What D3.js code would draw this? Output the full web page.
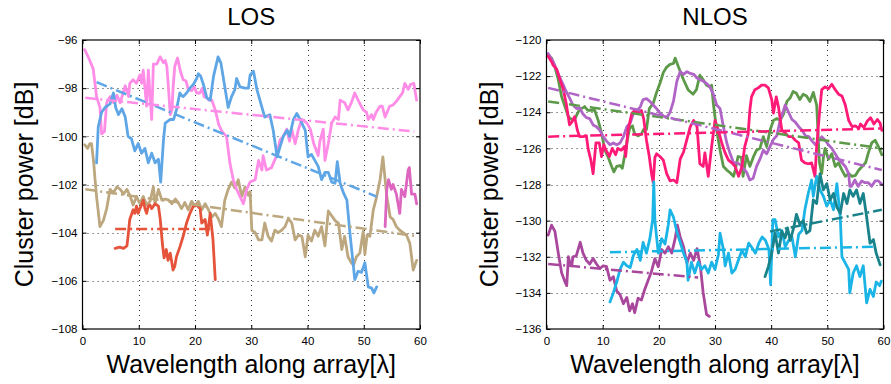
<!DOCTYPE html>
<html><head><meta charset="utf-8">
<script src="https://cdn.jsdelivr.net/npm/d3@7"></script>
<style>body{margin:0;background:#fff}svg{display:block}</style>
</head><body>
<svg id="c" width="891" height="384"></svg>
<script>
// ---------- data ----------
const xTicks = [0,10,20,30,40,50,60];
const losYTicks = [-108,-106,-104,-102,-100,-98,-96];
const nlosYTicks = [-136,-134,-132,-130,-128,-126,-124,-122,-120];

const losPink = [[0.4,-96.4],[1.2,-96.8],[1.9,-97.2],[2.5,-98.35],[3.1,-98.8],[3.4,-99.9],[3.9,-99.8],[4.3,-98.6],[4.9,-98.35],[5.5,-98.6],[6.1,-98.3],[6.7,-98.6],[7.6,-97.9],[8.2,-98.35],[8.4,-97.8],[9.0,-97.65],[9.6,-97.8],[10.2,-97.45],[10.5,-97.8],[10.8,-97.25],[11.4,-98.75],[11.7,-97.25],[12.3,-99.3],[12.6,-97.0],[13.2,-97.0],[13.8,-96.7],[14.4,-96.95],[14.7,-96.85],[15.0,-97.1],[15.3,-98.05],[15.6,-99.1],[15.9,-98.9],[16.1,-98.0],[16.4,-97.1],[16.9,-96.75],[17.4,-97.3],[17.9,-97.65],[18.4,-97.7],[18.8,-98.05],[19.4,-98.1],[19.9,-97.95],[20.3,-98.2],[20.9,-98.2],[21.3,-98.0],[21.6,-98.35],[22.1,-98.4],[22.5,-98.5],[23.0,-98.5],[23.6,-98.9],[24.2,-99.5],[24.8,-99.8],[25.6,-100.0],[26.2,-101.1],[26.8,-101.8],[27.4,-102.2],[28.0,-102.5],[28.6,-102.8],[29.2,-102.2],[29.8,-101.9],[30.7,-101.8],[31.3,-101.0],[31.9,-101.4],[32.1,-100.8],[32.7,-101.4],[33.6,-101.3],[34.5,-100.8],[35.1,-100.15],[35.7,-100.0],[36.3,-99.7],[36.8,-100.2],[37.2,-99.7],[37.8,-100.3],[38.4,-99.7],[39.0,-99.3],[39.9,-99.45],[40.5,-99.7],[41.1,-100.3],[41.9,-100.8],[42.2,-100.2],[42.8,-99.7],[43.1,-101.0],[43.7,-100.3],[44.3,-99.45],[44.9,-99.2],[45.5,-99.3],[45.8,-98.5],[46.6,-98.6],[47.2,-98.9],[47.8,-98.6],[48.4,-98.2],[49.0,-98.5],[49.9,-98.9],[50.5,-99.0],[50.8,-99.3],[51.4,-99.1],[51.7,-99.3],[52.2,-99.0],[52.9,-98.75],[53.3,-98.75],[53.8,-99.2],[54.6,-98.75],[55.2,-98.7],[55.8,-98.55],[56.4,-98.35],[56.9,-98.2],[57.3,-97.8],[57.9,-98.05],[58.3,-97.85],[58.9,-97.8],[59.4,-98.5]];
const losBlue = [[2.5,-101.1],[2.8,-99.6],[3.4,-99.0],[4.0,-98.8],[4.9,-98.65],[5.5,-98.2],[5.9,-98.8],[6.4,-99.1],[7.0,-98.85],[7.6,-99.2],[8.1,-100.0],[8.7,-100.1],[9.3,-100.6],[9.9,-100.3],[10.5,-100.7],[11.1,-100.5],[11.7,-101.1],[12.3,-100.7],[12.9,-101.1],[13.5,-100.95],[13.9,-101.9],[14.4,-100.15],[14.7,-99.45],[15.6,-99.3],[16.2,-99.3],[16.7,-98.9],[17.3,-98.2],[17.6,-98.3],[17.9,-98.35],[18.5,-98.2],[19.1,-98.0],[19.7,-97.85],[20.3,-97.6],[20.6,-97.4],[21.0,-97.5],[21.5,-97.85],[22.1,-98.4],[22.7,-98.5],[23.3,-97.5],[24.1,-96.7],[24.6,-96.95],[25.3,-97.95],[25.9,-98.8],[26.5,-98.35],[27.1,-98.05],[27.4,-97.6],[28.0,-97.95],[28.9,-98.0],[29.5,-98.0],[29.8,-97.45],[30.4,-97.3],[31.0,-98.05],[31.9,-98.8],[32.4,-99.2],[33.3,-99.1],[33.9,-99.75],[34.6,-100.85],[35.1,-100.45],[35.7,-100.0],[36.4,-99.75],[36.8,-100.0],[37.5,-99.3],[38.1,-99.05],[38.7,-99.3],[39.6,-99.75],[40.1,-100.85],[40.7,-100.75],[41.3,-101.0],[41.9,-101.25],[42.5,-101.8],[43.1,-101.5],[43.7,-101.5],[44.3,-101.9],[44.9,-101.95],[45.3,-101.05],[45.8,-101.95],[46.4,-102.35],[47.0,-102.65],[47.6,-104.15],[48.1,-105.25],[48.4,-105.95],[49.0,-105.6],[49.6,-105.65],[50.2,-105.25],[50.8,-106.25],[51.4,-106.3],[51.8,-106.5],[52.3,-106.25]];
const losTan = [[0.4,-100.35],[0.9,-100.5],[1.3,-100.3],[1.6,-100.3],[2.0,-101.1],[2.2,-101.7],[2.5,-102.5],[3.1,-103.75],[3.7,-103.5],[4.3,-103.0],[4.9,-102.2],[5.5,-102.35],[6.1,-102.1],[6.7,-102.2],[7.3,-102.4],[7.9,-102.2],[8.5,-102.5],[9.0,-102.85],[9.6,-102.5],[10.2,-102.8],[10.8,-102.5],[11.4,-102.85],[12.0,-102.7],[12.6,-102.1],[12.9,-102.8],[13.5,-102.2],[14.1,-102.65],[14.7,-102.6],[15.3,-102.65],[15.9,-102.8],[16.5,-102.6],[17.0,-102.75],[17.6,-103.0],[18.2,-102.75],[18.8,-103.05],[19.4,-102.7],[20.0,-102.9],[20.6,-102.7],[21.2,-103.05],[21.8,-102.8],[22.4,-103.05],[23.0,-103.35],[23.6,-103.2],[24.2,-103.45],[24.7,-103.75],[25.3,-102.65],[25.9,-102.2],[26.5,-101.9],[27.1,-102.15],[27.7,-101.8],[28.3,-102.5],[28.9,-102.1],[29.5,-102.45],[29.8,-102.3],[30.1,-103.9],[30.7,-104.0],[31.3,-104.3],[31.9,-104.3],[32.4,-103.6],[33.0,-104.15],[33.6,-104.35],[34.2,-103.9],[34.8,-104.0],[35.4,-103.9],[36.0,-103.75],[36.6,-103.4],[37.2,-103.6],[37.8,-104.3],[38.4,-104.1],[39.0,-104.15],[39.6,-105.0],[40.1,-104.1],[40.7,-104.35],[41.3,-103.9],[41.9,-104.15],[42.5,-103.75],[43.1,-104.55],[43.7,-103.1],[44.3,-103.3],[44.9,-103.5],[45.5,-103.6],[46.1,-104.7],[46.6,-104.15],[47.2,-105.0],[47.8,-105.25],[48.2,-105.35],[48.7,-105.0],[49.3,-104.85],[49.9,-103.95],[50.2,-104.9],[50.6,-104.1],[51.1,-104.15],[51.7,-103.05],[52.3,-102.5],[52.9,-101.8],[53.4,-100.85],[53.8,-101.8],[54.1,-102.5],[54.7,-103.35],[55.2,-103.45],[55.8,-103.75],[56.4,-103.9],[57.0,-104.0],[57.6,-104.1],[58.2,-104.45],[58.8,-105.55],[59.4,-105.15]];
const losRed = [[5.8,-104.65],[6.6,-104.6],[7.3,-104.65],[7.9,-104.55],[8.1,-104.15],[8.4,-103.45],[9.0,-103.05],[9.3,-103.2],[9.6,-102.9],[9.9,-103.2],[10.2,-103.0],[10.5,-102.85],[10.8,-102.65],[11.1,-103.0],[11.4,-103.2],[11.7,-102.9],[12.0,-102.85],[12.3,-103.0],[12.9,-102.8],[13.5,-102.9],[13.8,-103.4],[14.2,-104.45],[14.5,-105.05],[14.9,-104.7],[15.2,-105.15],[15.6,-104.85],[16.1,-105.55],[16.4,-105.4],[16.7,-105.0],[17.3,-104.6],[17.9,-104.15],[18.5,-103.6],[19.1,-103.2],[19.7,-102.9],[20.3,-102.85],[20.9,-103.0],[21.2,-103.6],[21.8,-103.45],[22.2,-104.1],[22.7,-103.2],[23.2,-104.3],[23.6,-105.95]];
const losMagenta = [[53.8,-103.75],[54.1,-102.2],[54.4,-101.8],[54.9,-102.2],[55.2,-102.0],[55.8,-102.4],[56.4,-103.2],[56.7,-102.2],[57.3,-102.5],[57.9,-101.4],[58.1,-101.3],[58.5,-102.4],[59.1,-102.4],[59.4,-102.8]];
const losBlueFit = [[2.5,-97.75],[52.3,-102.5]];
const losPinkFit = [[0.5,-98.4],[59.0,-99.8]];
const losTanFit = [[0.5,-102.2],[59.5,-104.15]];
const losRedFit = [[5.8,-103.85],[23.3,-103.85]];

const nlosGreen = [[0.3,-120.85],[0.9,-121.0],[1.5,-121.5],[2.1,-122.2],[2.7,-123.15],[3.3,-123.7],[3.9,-124.25],[4.5,-124.4],[5.0,-124.4],[5.7,-123.95],[6.2,-123.8],[6.8,-123.7],[7.4,-123.9],[8.0,-123.9],[8.6,-123.9],[9.2,-124.45],[9.8,-125.15],[10.4,-126.1],[11.0,-126.5],[11.6,-127.0],[12.0,-127.3],[12.5,-127.0],[13.1,-126.95],[13.5,-127.1],[14.0,-126.25],[14.4,-125.5],[14.8,-124.9],[15.3,-124.75],[15.7,-125.2],[16.3,-125.3],[16.9,-125.2],[17.3,-124.95],[17.8,-124.95],[18.3,-123.8],[19.0,-123.5],[19.6,-122.9],[20.2,-122.4],[20.8,-121.8],[21.4,-121.5],[22.0,-121.35],[22.6,-121.3],[22.9,-121.0],[23.5,-121.5],[24.4,-122.2],[25.2,-122.75],[26.1,-123.0],[26.7,-122.75],[27.3,-121.95],[27.9,-122.2],[28.5,-122.5],[29.1,-122.6],[29.4,-122.5],[29.7,-123.5],[30.3,-125.0],[30.9,-126.1],[31.5,-127.0],[32.1,-127.2],[32.7,-127.35],[33.3,-127.55],[33.6,-127.2],[34.1,-126.45],[34.7,-126.5],[35.0,-127.55],[35.6,-126.4],[36.2,-127.0],[36.8,-126.5],[37.4,-126.1],[38.0,-126.0],[38.6,-125.35],[39.2,-125.9],[39.8,-125.0],[40.4,-124.45],[41.0,-124.35],[41.6,-124.45],[42.2,-124.1],[42.8,-123.4],[43.4,-123.2],[43.9,-122.85],[44.5,-122.95],[45.1,-123.3],[45.7,-123.0],[46.3,-123.1],[46.9,-123.4],[47.5,-122.9],[48.1,-123.6],[48.6,-126.8],[49.0,-127.4],[49.3,-126.5],[49.6,-126.0],[50.2,-126.6],[50.8,-126.3],[51.4,-127.0],[52.0,-126.8],[52.6,-127.2],[53.2,-127.55],[53.8,-127.4],[54.4,-127.55],[55.0,-127.5],[55.6,-127.2],[56.2,-127.0],[56.8,-126.8],[57.3,-126.25],[57.9,-125.7],[58.5,-125.55],[59.1,-125.9],[59.7,-126.35]];
const nlosPurple = [[0.3,-120.75],[1.2,-121.2],[1.8,-121.65],[2.4,-122.1],[3.0,-122.5],[3.5,-122.85],[4.1,-123.2],[4.7,-123.6],[5.4,-123.8],[5.9,-123.75],[6.5,-124.1],[7.1,-124.3],[7.7,-124.35],[8.3,-124.7],[8.9,-124.8],[9.5,-125.0],[10.1,-125.35],[10.7,-125.6],[11.3,-125.8],[11.9,-125.7],[12.5,-125.8],[13.1,-125.7],[13.7,-125.35],[14.3,-124.8],[14.9,-124.6],[15.5,-124.05],[16.1,-123.9],[16.7,-123.7],[17.2,-123.3],[17.8,-123.25],[18.4,-123.4],[19.0,-123.6],[19.6,-123.8],[20.2,-124.05],[20.8,-124.2],[21.4,-124.3],[22.0,-124.0],[22.6,-123.4],[23.2,-122.3],[23.8,-121.75],[24.4,-121.9],[25.0,-121.75],[25.6,-121.85],[26.2,-121.9],[26.8,-122.1],[27.4,-122.2],[28.0,-122.3],[28.5,-122.4],[29.1,-122.6],[29.7,-123.0],[30.3,-123.6],[30.9,-123.8],[31.5,-124.8],[32.1,-125.7],[32.7,-126.3],[33.3,-126.8],[33.9,-126.8],[34.5,-126.9],[35.0,-127.1],[35.6,-127.3],[36.2,-127.75],[36.8,-127.65],[37.4,-127.0],[38.0,-126.6],[38.6,-126.1],[39.2,-126.3],[39.8,-125.9],[40.4,-125.5],[41.0,-125.3],[41.6,-124.45],[42.2,-123.9],[42.5,-123.6],[43.1,-124.0],[43.7,-124.4],[44.3,-124.55],[44.9,-124.8],[45.5,-125.0],[46.1,-125.3],[46.7,-125.35],[47.3,-125.6],[47.9,-125.8],[48.5,-125.6],[49.0,-125.35],[49.6,-125.55],[50.2,-125.8],[50.8,-126.0],[51.4,-126.3],[52.0,-126.6],[52.6,-126.8],[53.2,-127.0],[53.8,-127.4],[54.0,-128.1],[54.3,-128.1],[54.9,-127.75],[55.5,-128.1],[56.1,-127.8],[56.7,-127.9],[57.3,-127.9],[57.9,-128.1],[58.5,-127.8],[59.1,-127.8],[59.7,-128.0]];
const nlosHotPink = [[0.3,-120.9],[0.9,-121.2],[1.2,-121.4],[1.8,-121.6],[2.4,-122.2],[3.0,-122.75],[3.5,-123.5],[4.1,-124.7],[4.5,-124.55],[5.0,-124.25],[5.5,-125.0],[5.9,-125.35],[6.5,-125.35],[7.1,-125.3],[7.4,-126.0],[7.9,-126.65],[8.3,-127.4],[8.8,-125.7],[9.4,-125.7],[9.8,-126.45],[10.2,-125.8],[10.6,-126.1],[11.2,-126.45],[11.7,-126.0],[12.3,-126.35],[12.7,-126.0],[13.3,-126.1],[13.9,-125.9],[14.1,-126.45],[14.5,-125.0],[15.2,-124.05],[15.7,-123.9],[16.3,-124.0],[16.9,-123.9],[17.3,-124.35],[17.8,-125.55],[18.3,-126.45],[18.7,-127.4],[19.0,-127.9],[19.3,-126.5],[19.6,-126.3],[20.2,-126.45],[20.8,-126.65],[21.4,-127.4],[22.0,-127.8],[22.6,-127.75],[23.2,-127.9],[23.8,-126.6],[24.4,-126.2],[25.0,-125.5],[25.6,-124.8],[26.2,-124.45],[26.8,-124.8],[27.3,-126.85],[27.9,-127.0],[28.2,-126.25],[28.8,-127.55],[29.4,-125.9],[30.0,-124.45],[30.6,-125.0],[31.2,-125.7],[31.8,-126.25],[32.4,-126.65],[33.0,-126.8],[33.6,-127.0],[34.2,-127.55],[34.8,-127.0],[35.3,-125.9],[35.9,-125.2],[36.2,-123.9],[36.5,-123.15],[37.1,-122.75],[37.7,-122.65],[38.3,-122.5],[38.9,-122.5],[39.5,-122.65],[40.1,-123.3],[40.4,-124.05],[40.9,-123.15],[41.3,-123.7],[41.9,-125.0],[42.5,-125.15],[43.1,-125.35],[43.7,-125.35],[44.3,-125.55],[44.9,-125.7],[45.4,-126.65],[46.0,-126.8],[46.6,-126.85],[47.2,-126.8],[47.8,-127.55],[48.1,-125.9],[48.6,-124.05],[49.0,-122.75],[49.6,-122.6],[50.2,-122.7],[50.8,-122.45],[51.4,-122.75],[52.0,-123.0],[52.6,-123.1],[53.2,-123.6],[53.8,-124.45],[54.4,-124.8],[55.0,-124.75],[55.6,-124.9],[55.9,-124.65],[56.5,-124.85],[57.1,-124.5],[57.7,-124.3],[58.3,-124.65],[58.9,-124.4],[59.4,-124.6],[59.7,-125.0]];
const nlosPlum = [[0.3,-130.8],[0.9,-130.25],[1.5,-130.6],[2.1,-131.8],[2.7,-132.9],[3.3,-133.4],[3.6,-133.6],[3.9,-132.0],[4.2,-132.35],[4.5,-132.5],[4.7,-132.0],[5.3,-131.95],[6.0,-131.2],[6.5,-131.8],[7.1,-132.2],[7.7,-132.4],[8.3,-132.1],[8.9,-132.4],[9.5,-132.65],[10.1,-132.5],[10.7,-132.55],[11.3,-133.3],[11.9,-133.1],[12.5,-133.9],[13.1,-134.1],[13.7,-134.6],[14.3,-134.25],[14.8,-135.0],[15.3,-134.6],[15.7,-135.1],[16.3,-134.3],[16.9,-134.4],[17.5,-133.8],[18.1,-133.3],[18.7,-132.8],[19.3,-132.1],[19.9,-132.55],[20.5,-131.6],[21.1,-131.8],[21.7,-131.45],[22.3,-131.8],[22.9,-131.0],[23.3,-130.25],[23.8,-130.9],[24.4,-131.45],[25.0,-132.35],[25.6,-131.8],[26.2,-132.2],[26.8,-131.55],[27.4,-132.55],[27.9,-134.0],[28.5,-135.2],[29.0,-135.3]];
const nlosCyan = [[11.3,-134.5],[11.9,-134.0],[12.5,-133.4],[13.1,-132.7],[13.7,-132.3],[14.3,-132.5],[14.9,-132.6],[15.5,-131.9],[16.1,-131.6],[16.7,-132.2],[17.2,-131.2],[17.8,-131.8],[18.4,-131.0],[18.9,-129.95],[19.1,-127.85],[19.3,-130.0],[19.9,-131.8],[20.5,-131.0],[21.1,-131.3],[21.7,-130.2],[22.0,-129.4],[22.6,-129.8],[23.2,-130.6],[23.8,-131.2],[24.4,-131.8],[25.0,-132.3],[25.2,-133.3],[25.8,-132.3],[26.4,-132.9],[27.0,-132.3],[27.6,-132.7],[28.2,-132.5],[28.8,-132.9],[29.4,-132.3],[30.0,-132.7],[30.6,-131.9],[30.9,-130.7],[31.5,-131.6],[31.8,-132.5],[32.4,-131.8],[33.0,-132.9],[33.6,-132.7],[34.2,-132.15],[34.8,-131.65],[35.4,-132.0],[36.0,-131.25],[36.6,-131.5],[37.2,-131.8],[37.8,-131.25],[38.4,-130.9],[39.0,-131.1],[39.6,-131.6],[39.9,-133.55],[40.3,-129.95],[40.7,-129.95],[41.3,-130.9],[41.9,-130.55],[42.5,-131.45],[43.1,-131.1],[43.7,-130.9],[44.3,-132.0],[44.9,-130.75],[45.5,-130.55],[46.0,-129.4],[46.6,-128.5],[47.2,-127.75],[47.5,-128.65],[48.1,-127.55],[48.7,-128.3],[49.3,-128.65],[49.9,-129.2],[50.5,-128.85],[51.1,-129.4],[51.7,-127.95],[52.3,-129.8],[52.6,-132.0],[53.2,-132.35],[53.8,-132.7],[54.0,-134.0],[54.6,-132.9],[55.2,-132.5],[55.8,-133.1],[56.4,-132.5],[57.0,-134.55],[57.6,-133.8],[58.2,-134.2],[58.7,-133.4],[59.3,-133.6],[59.6,-133.35]];
const nlosTeal = [[38.9,-133.1],[39.5,-132.55],[40.1,-131.8],[40.7,-130.7],[41.3,-131.8],[41.9,-130.6],[42.5,-130.95],[42.9,-130.4],[43.4,-131.1],[44.0,-130.4],[44.5,-129.65],[45.1,-130.2],[45.7,-130.0],[46.3,-130.7],[46.9,-130.55],[47.5,-128.85],[48.1,-129.05],[48.7,-127.4],[49.3,-128.3],[49.9,-127.95],[50.5,-128.85],[51.1,-128.5],[51.7,-129.25],[52.3,-129.6],[52.9,-128.5],[53.5,-129.05],[54.0,-128.3],[54.6,-128.65],[55.2,-128.3],[55.8,-129.05],[56.4,-128.5],[57.0,-129.8],[57.6,-131.25],[58.2,-131.05],[58.7,-131.8],[59.4,-132.45]];
const nlosGreenFit = [[0.3,-123.4],[59.7,-126.0]];
const nlosPurpleFit = [[0.3,-122.65],[59.7,-127.2]];
const nlosHotPinkFit = [[0.3,-125.35],[59.7,-124.9]];
const nlosPlumFit = [[0.3,-132.4],[27.0,-133.15]];
const nlosCyanFit = [[11.3,-131.75],[58.2,-131.45]];
const nlosTealFit = [[39.8,-130.6],[59.7,-129.4]];

// ---------- drawing ----------
const svg = d3.select("#c");
const LBL = "'Liberation Sans', Arial, Helvetica, sans-serif";
const TCK = "'DejaVu Sans', sans-serif";

function panel(opt){
  const x = d3.scaleLinear().domain([0,60]).range([opt.x0, opt.x1]);
  const y = d3.scaleLinear().domain(opt.yDomain).range([329, 40]);
  const g = svg.append("g");
  const clipId = "clip"+opt.id;
  svg.append("clipPath").attr("id", clipId).append("rect")
     .attr("x", opt.x0).attr("y", 40).attr("width", opt.x1-opt.x0).attr("height", 289);

  // grid
  const grid = g.append("g").attr("stroke","#333").attr("stroke-width",1).attr("stroke-dasharray","1,4");
  grid.selectAll("line.v").data(xTicks.slice(1,-1)).join("line")
    .attr("x1", d=>Math.round(x(d))+0.5).attr("x2", d=>Math.round(x(d))+0.5).attr("y1", 40).attr("y2", 329);
  grid.selectAll("line.h").data(opt.yTicks.slice(1,-1)).join("line")
    .attr("y1", d=>Math.round(y(d))+0.5).attr("y2", d=>Math.round(y(d))+0.5).attr("x1", opt.x0).attr("x2", opt.x1);

  const line = d3.line().x(d=>x(d[0])).y(d=>y(d[1]));
  const plot = g.append("g").attr("clip-path", `url(#${clipId})`);
  opt.series.forEach(s=>{
    plot.append("path").datum(s.data).attr("d", line).attr("fill","none")
      .attr("stroke", s.color).attr("stroke-width", 2.8)
      .attr("stroke-linejoin","round").attr("stroke-linecap","round");
  });
  opt.fits.forEach(s=>{
    plot.append("path").datum(s.data).attr("d", line).attr("fill","none")
      .attr("stroke", s.color).attr("stroke-width", 2.5)
      .attr("stroke-dasharray","11,4,2,4");
  });

  // axes
  const ax = g.append("g").attr("font-family", TCK);
  ax.append("g").attr("transform",`translate(0,329)`)
    .call(d3.axisBottom(x).tickValues(xTicks).tickSizeInner(-4).tickSizeOuter(0).tickPadding(8).tickFormat(d3.format("d")));
  ax.append("g").attr("transform",`translate(${opt.x0},0)`)
    .call(d3.axisLeft(y).tickValues(opt.yTicks).tickSizeInner(-4).tickSizeOuter(0).tickPadding(5).tickFormat(d=>d3.format("d")(d).replace("-","\u2212")));
  ax.append("g").attr("transform",`translate(0,40)`)
    .call(d3.axisTop(x).tickValues(xTicks).tickSizeInner(-4).tickSizeOuter(0).tickFormat(""));
  ax.append("g").attr("transform",`translate(${opt.x1},0)`)
    .call(d3.axisRight(y).tickValues(opt.yTicks).tickSizeInner(-4).tickSizeOuter(0).tickFormat(""));
  ax.selectAll("text").attr("font-size", 11.5).attr("fill","#000");
  ax.selectAll(".domain").remove();
  ax.selectAll(".tick line").attr("stroke","#000");
  g.append("rect").attr("x", opt.x0).attr("y", 40).attr("width", opt.x1-opt.x0).attr("height", 289)
    .attr("fill","none").attr("stroke","#000").attr("stroke-width",1.2);

  // labels
  const cx = (opt.x0+opt.x1)/2;
  g.append("text").attr("x", cx).attr("y", 25).attr("text-anchor","middle")
    .attr("font-family", LBL).attr("font-size", 24).text(opt.title);
  g.append("text").attr("x", cx).attr("y", 373).attr("text-anchor","middle")
    .attr("font-family", LBL).attr("font-size", 25).text("Wavelength along array[\u03bb]");
  g.append("text").attr("transform",`translate(${opt.ylx},184.5) rotate(-90)`).attr("text-anchor","middle")
    .attr("font-family", LBL).attr("font-size", 25).text("Cluster power [dB]");
}

panel({
  id:"L", x0:82.5, x1:420, yDomain:[-108,-96], yTicks:losYTicks, title:"LOS", ylx:33,
  series:[
    {data:losTan, color:"#bca77f"},
    {data:losRed, color:"#e5533a"},
    {data:losPink, color:"#ff8ce6"},
    {data:losBlue, color:"#5fa6e6"},
    {data:losMagenta, color:"#dd66c0"}
  ],
  fits:[
    {data:losBlueFit, color:"#5fa6e6"},
    {data:losPinkFit, color:"#ff8ce6"},
    {data:losTanFit, color:"#bca77f"},
    {data:losRedFit, color:"#e5533a"}
  ]
});
panel({
  id:"R", x0:546.5, x1:883.5, yDomain:[-136,-120], yTicks:nlosYTicks, title:"NLOS", ylx:498,
  series:[
    {data:nlosGreen, color:"#5c9a4a"},
    {data:nlosPurple, color:"#b065c6"},
    {data:nlosHotPink, color:"#ff1a78"},
    {data:nlosPlum, color:"#a9479d"},
    {data:nlosCyan, color:"#1ab5e6"},
    {data:nlosTeal, color:"#1a828a"}
  ],
  fits:[
    {data:nlosGreenFit, color:"#5c9a4a"},
    {data:nlosPurpleFit, color:"#b065c6"},
    {data:nlosHotPinkFit, color:"#ff1a78"},
    {data:nlosPlumFit, color:"#a9479d"},
    {data:nlosCyanFit, color:"#1ab5e6"},
    {data:nlosTealFit, color:"#1a828a"}
  ]
});
</script>
</body></html>
